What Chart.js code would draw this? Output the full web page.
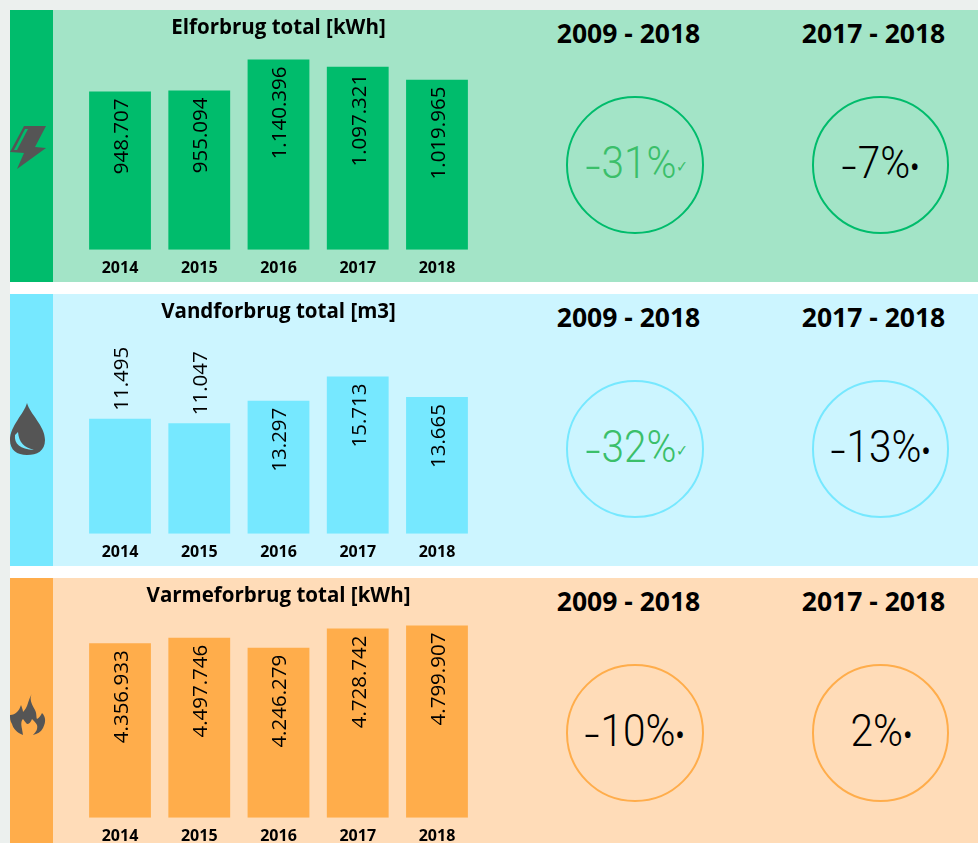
<!DOCTYPE html>
<html><head><meta charset="utf-8">
<script src="https://cdn.jsdelivr.net/npm/chart.js@4"></script>
<style>
html,body{margin:0;padding:0;background:#fff;overflow:hidden;width:978px;height:843px;font-family:"Open Sans",sans-serif}
#gt{position:absolute;left:0;top:0;width:978px;height:10px;background:#ECF0EE}
#gl{position:absolute;left:0;top:0;width:10px;height:843px;background:#ECF0EE}
.panel{position:absolute;left:10px;width:968px;height:272px;overflow:hidden}
.strip{position:absolute;left:0;top:0;width:43px;height:272px}
.chartbox{position:absolute;left:43px;top:0;width:437px;height:277px}
.period{position:absolute;top:6px;width:200px;text-align:center;font:bold 26.5px "Open Sans",sans-serif;color:#000;line-height:34px;white-space:nowrap}
.ring{position:absolute;top:86px;width:133.6px;height:133.6px;border:2.2px solid;border-radius:50%;box-sizing:content-box}
.kpi{position:absolute;top:122px;width:200px;text-align:center;font:300 45px Roboto,sans-serif;line-height:62px;white-space:nowrap;transform:scaleX(.9);transform-origin:center}
.kpi.checked{padding-left:6px;box-sizing:border-box}
.kpi .sign{display:inline-block;transform:translateY(4px) scaleX(1.35);margin-right:3px}
.kpi small{font-size:16px;vertical-align:6px;font-weight:400}
.kpi small.dot{font:700 22px "Open Sans",sans-serif;vertical-align:3px;margin-left:1px}
svg.icon{position:absolute;left:0;top:0}
</style></head><body>
<div id="gt"></div><div id="gl"></div>
<div id="root"></div>
<script>
const years = ["2014","2015","2016","2017","2018"];
const elValues = [948707,955094,1140396,1097321,1019965];
const vandValues = [11495,11047,13297,15713,13665];
const varmeValues = [4356933,4497746,4246279,4728742,4799907];
const periods = ["2009 - 2018","2017 - 2018"];
const elKpi = ["-31%","-7%"];
const vandKpi = ["-32%","-13%"];
const varmeKpi = ["-10%","2%"];
const elMarks = ["\u2713","\u2022"];
const vandMarks = ["\u2713","\u2022"];
const varmeMarks = ["\u2022","\u2022"];
const titles = ["Elforbrug total [kWh]","Vandforbrug total [m3]","Varmeforbrug total [kWh]"];
const axisMax = [1254000,20900,5225000];

const icons = [
 '<path d="M14 116 L36 116 L25 137 L36 138 L7 159 L14 143 L0 142 Z" fill="#555"/><path d="M4 140 L15 119 L18 119 L7 140 Z" fill="#00BC6C"/>',
 '<path d="M17 109 C20 120 35 132 35 146 C35 157 27 161 17 161 C7 161 0 156 0 146 C0 132 14 120 17 109 Z" fill="#555"/><path d="M5 141 C4 150 10 155 24 156 C14 153 9 149 8 138 Z" fill="#76E8FF"/>',
 '<path d="M21.7 116 C19 121 22 127 25 132 C27 136 26 139 27 141 C29 140 31 137 32 135 C36 139 36 144 33 150 C31 154 27 156 23 157 C26 154 28 151 27 147 C26 145 24 143 22 141 C21 144 19 146 17 146 C15 144 14 142 13 141 C11 143 11 146 12 151 L13 157 C7 155 3 150 2 146 C0 143 0 140 0 137 C3 137 5 136 7 134 C9 132 10 130 11 127 C12 130 13 132 13 134 C15 132 17 129 18 125 C19 122 20 119 21.7 116 Z" fill="#555"/>'
];

const themes = [
 {top:10, strip:"#00BC6C", bg:"#A3E4C7", bar:"#00BC6C", values:elValues, kpi:elKpi, marks:elMarks, kpiColors:["#3BBF6A","#000"]},
 {top:294,strip:"#76E8FF", bg:"#CCF5FF", bar:"#76E8FF", values:vandValues, kpi:vandKpi, marks:vandMarks, kpiColors:["#3BBF6A","#000"]},
 {top:578,strip:"#FFAD4B", bg:"#FFDCB8", bar:"#FFAD4B", values:varmeValues, kpi:varmeKpi, marks:varmeMarks, kpiColors:["#000","#000"]}
];

const fmt = v => String(v).replace(/\B(?=(\d{3})+(?!\d))/g, ".");

const valueLabels = {
  id:"valueLabels",
  afterDatasetsDraw(chart){
    const ctx = chart.ctx, meta = chart.getDatasetMeta(0);
    const values = chart.data.datasets[0].data;
    ctx.save();
    ctx.font = '20.5px "Open Sans", sans-serif';
    ctx.fillStyle = "#000";
    ctx.textBaseline = "middle";
    meta.data.forEach((bar,i)=>{
      const txt = fmt(values[i]);
      const h = bar.base - bar.y;
      const inside = h >= 120;
      ctx.save();
      ctx.translate(bar.x + 2, inside ? bar.y + 7 : bar.y - 8);
      ctx.rotate(-Math.PI/2);
      ctx.textAlign = inside ? "right" : "left";
      ctx.fillText(txt,0,0);
      ctx.restore();
    });
    ctx.restore();
  }
};

const root = document.getElementById("root");
themes.forEach((t,idx)=>{
  const p = document.createElement("div");
  p.className = "panel";
  p.style.top = t.top+"px";
  p.style.background = t.bg;
  let html = `<div class="strip" style="background:${t.strip}"></div>
   <svg class="icon" width="36" height="272" viewBox="0 0 36 272">${icons[idx]}</svg>
   <div class="chartbox"><canvas id="c${idx}" width="437" height="277"></canvas></div>`;
  [0,1].forEach(k=>{
    const cx = k===0 ? 625 : 870.5;
    const px = k===0 ? 618.5 : 863.5;
    const sign = t.kpi[k][0]==="-" ? '<span class="sign">-</span>' : "";
    const body = t.kpi[k].replace(/^-/,"");
    const isDot = t.marks[k]==="\u2022";
    const mark = isDot ? `<small class="dot">${t.marks[k]}</small>` : `<small>${t.marks[k]}</small>`;
    html += `<div class="period" style="left:${px-100}px">${periods[k]}</div>
     <div class="ring" style="left:${cx-69}px;border-color:${t.bar}"></div>
     <div class="kpi${isDot?"":" checked"}" style="left:${cx-100}px;color:${t.kpiColors[k]}">${sign}${body}${mark}</div>`;
  });
  p.innerHTML = html;
  root.appendChild(p);
  new Chart(document.getElementById("c"+idx),{
    type:"bar",
    data:{labels:years,datasets:[{data:t.values,backgroundColor:t.bar,borderWidth:0,categoryPercentage:1,barPercentage:.78}]},
    plugins:[valueLabels],
    options:{
      responsive:false,animation:false,
      layout:{padding:{left:27.4,right:13.4,top:0,bottom:0}},
      plugins:{
        legend:{display:false},tooltip:{enabled:false},
        title:{display:true,text:titles[idx],color:"#000",fullSize:false,
          font:{family:'"Open Sans", sans-serif',size:20.5,weight:"bold",lineHeight:1.2},padding:{top:6,bottom:0}}
      },
      scales:{
        x:{grid:{display:false,drawTicks:false},border:{display:false},
           ticks:{color:"#000",padding:9,font:{family:'"Open Sans", sans-serif',size:16,weight:"bold"}}},
        y:{display:false,min:0,max:axisMax[idx]}
      }
    }
  });
});
</script>
</body></html>
